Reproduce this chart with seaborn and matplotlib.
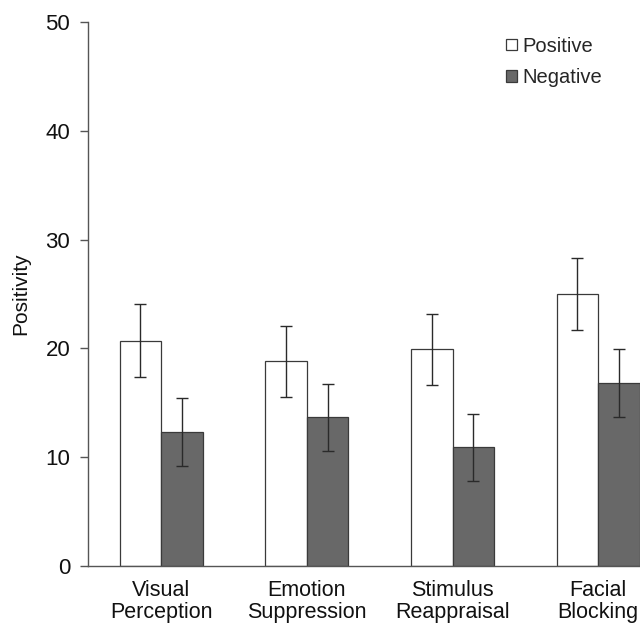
import matplotlib
matplotlib.use("Agg")
import matplotlib.pyplot as plt
import seaborn as sns
import pandas as pd
import numpy as np
from matplotlib.patches import Patch

categories = ["Visual\nPerception", "Emotion\nSuppression", "Stimulus\nReappraisal", "Facial\nBlocking"]
series = ["Positive", "Negative"]
positive_vals = [20.7, 18.8, 19.9, 25.0]
negative_vals = [12.3, 13.65, 10.9, 16.8]
positive_err = [3.35, 3.3, 3.3, 3.35]
negative_err = [3.15, 3.1, 3.1, 3.1]
yticks = [0, 10, 20, 30, 40, 50]

df = pd.DataFrame({
    "Condition": categories * 2,
    "Valence": [series[0]] * 4 + [series[1]] * 4,
    "Positivity": positive_vals + negative_vals,
    "err": positive_err + negative_err,
})

sns.set_style("white")
plt.rcParams['font.family'] = ['Liberation Sans', 'DejaVu Sans']

fig = plt.figure(figsize=(6.4, 6.25), dpi=100)
ax = fig.add_axes([0.138, 0.0944, 0.9105, 0.8704])

palette = {"Positive": "#ffffff", "Negative": "#686868"}
sns.barplot(data=df, x="Condition", y="Positivity", hue="Valence", order=categories,
            hue_order=series, palette=palette, width=0.57, errorbar=None,
            edgecolor="#3a3a3a", linewidth=0.9, saturation=1, ax=ax, legend=False)

# error bars at bar centres
for cont, errs, vals in zip(ax.containers, [positive_err, negative_err], [positive_vals, negative_vals]):
    xs = [p.get_x() + p.get_width() / 2 for p in cont.patches]
    ax.errorbar(xs, vals, yerr=errs, fmt="none", ecolor="#2a2a2a", elinewidth=1.0,
                capsize=4, capthick=1.0)

ax.set_ylim(0, 50)
ax.set_xlim(-0.5, 3.5)
ax.set_yticks(yticks)
ax.set_yticklabels([str(t) for t in yticks], fontsize=16, color="#111111")
ax.set_xticks(range(4))
ax.set_xticklabels(categories, fontsize=15.5, color="#111111", linespacing=1.1)
ax.set_xticks([0.5, 1.5, 2.5], minor=True)
ax.tick_params(axis="x", which="major", length=0, pad=10)
ax.tick_params(axis="x", which="minor", length=6, width=1, color="#555555", direction="out")
ax.tick_params(axis="y", which="major", length=6, width=1, color="#555555", direction="out", pad=7, left=True)
ax.set_xlabel("")
ax.set_ylabel("Positivity", fontsize=15, color="#111111", labelpad=11)

for s in ["top", "right"]:
    ax.spines[s].set_visible(False)
for s in ["left", "bottom"]:
    ax.spines[s].set_color("#555555")
    ax.spines[s].set_linewidth(1.0)

handles = [Patch(facecolor=palette[s], edgecolor="#3a3a3a", linewidth=0.9, label=s) for s in series]
fig.legend(handles=handles, loc="upper left", bbox_to_anchor=(0.763, 0.97), frameon=False,
           fontsize=14.5, handlelength=0.5, handleheight=0.5, handletextpad=0.3, labelspacing=0.62)

fig.savefig("out.png", dpi=100)
